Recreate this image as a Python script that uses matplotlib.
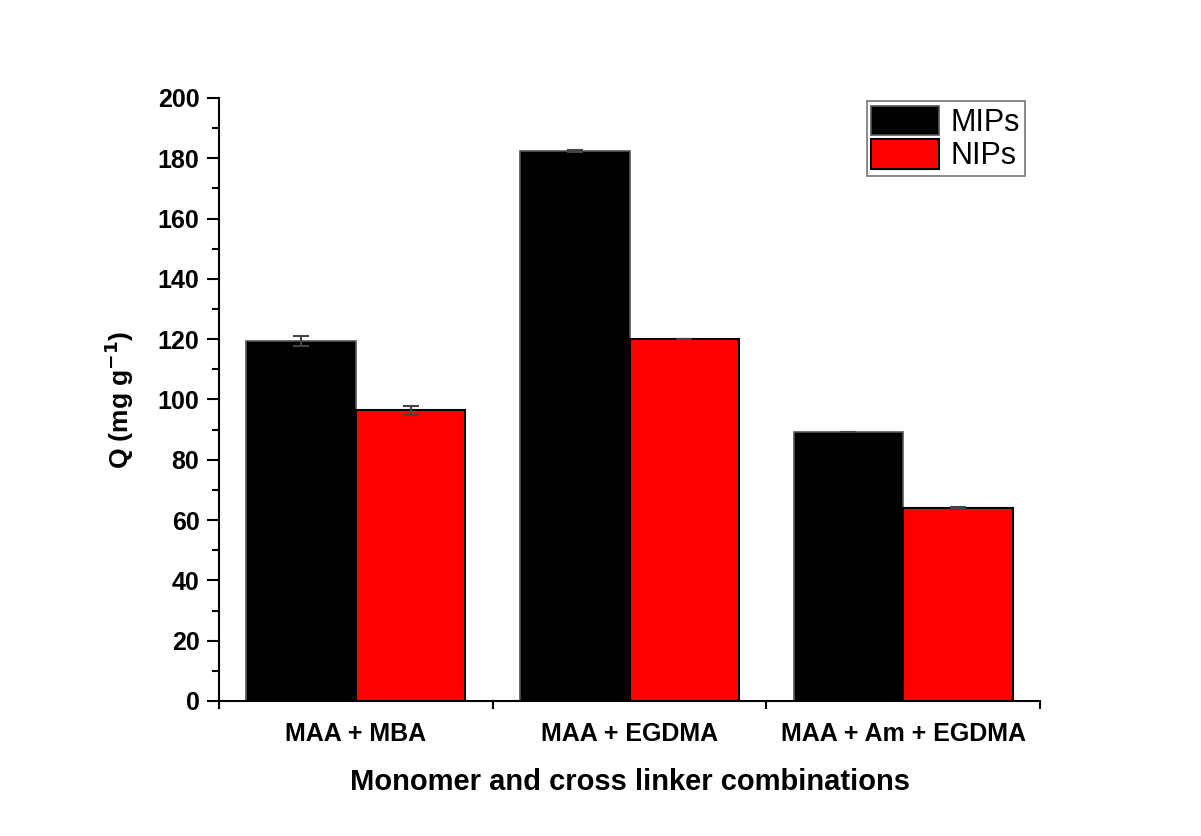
import matplotlib
matplotlib.use("Agg")
import matplotlib.pyplot as plt
import numpy as np
from matplotlib.ticker import MultipleLocator, FixedLocator

categories = ["MAA + MBA", "MAA + EGDMA", "MAA + Am + EGDMA"]
mips = [119.3, 182.5, 89.3]
nips = [96.4, 120.2, 64.1]
mips_err = [1.6, 0.3, 0.0]
nips_err = [1.5, 0.0, 0.3]

plt.rcParams['font.family'] = ['Liberation Sans', 'DejaVu Sans']

fig = plt.figure(figsize=(12.01, 8.36), dpi=100)
ax = fig.add_axes([0.1823, 0.1615, 0.866 - 0.1823, 0.8828 - 0.1615])

x = np.arange(1, len(categories) + 1)
w = 0.4
ax.bar(x - w/2, mips, width=w, color='black', edgecolor='#555555', linewidth=1.2,
       label='MIPs', zorder=2)
ax.bar(x + w/2, nips, width=w, color='#ff0000', edgecolor='black', linewidth=1.5,
       label='NIPs', zorder=2)
ax.errorbar(x - w/2, mips, yerr=mips_err, fmt='none', ecolor='#444444',
            elinewidth=1.5, capsize=6, capthick=1.5, zorder=3)
ax.errorbar(x + w/2, nips, yerr=nips_err, fmt='none', ecolor='#444444',
            elinewidth=1.5, capsize=6, capthick=1.5, zorder=3)

ax.set_xlim(0.5, 3.5)
ax.set_ylim(0, 200)
ax.spines['top'].set_visible(False)
ax.spines['right'].set_visible(False)
for s in ['left', 'bottom']:
    ax.spines[s].set_linewidth(1.5)

ax.yaxis.set_major_locator(MultipleLocator(20))
ax.yaxis.set_minor_locator(MultipleLocator(10))
ax.tick_params(axis='y', which='major', direction='out', length=9, width=1.5,
               labelsize=18, pad=5)
ax.tick_params(axis='y', which='minor', direction='out', length=5, width=1.5)
for lab in ax.get_yticklabels():
    lab.set_fontweight('bold')

ax.xaxis.set_major_locator(FixedLocator([0.5, 1.5, 2.5, 3.5]))
ax.xaxis.set_minor_locator(FixedLocator(list(x)))
ax.tick_params(axis='x', which='major', direction='out', length=6, width=1.5,
               labelbottom=False)
ax.tick_params(axis='x', which='minor', length=0, labelsize=18, pad=15)
ax.set_xticklabels(categories, minor=True, fontweight='bold')

ax.set_xlabel('Monomer and cross linker combinations', fontsize=21,
              fontweight='bold', labelpad=16)
ax.set_ylabel(r'Q (mg g$^{\mathbf{-1}}$)', fontsize=19, fontweight='bold',
              labelpad=16)

leg = ax.legend(loc='upper right', bbox_to_anchor=(0.985, 1.0), fontsize=22,
                frameon=True, fancybox=False, edgecolor='#555555',
                handlelength=2.2, handleheight=1.1, borderpad=0.15,
                labelspacing=0.05, handletextpad=0.4, borderaxespad=0.1)
leg.get_frame().set_linewidth(1.2)

fig.savefig('out.png', dpi=100, facecolor='white')
